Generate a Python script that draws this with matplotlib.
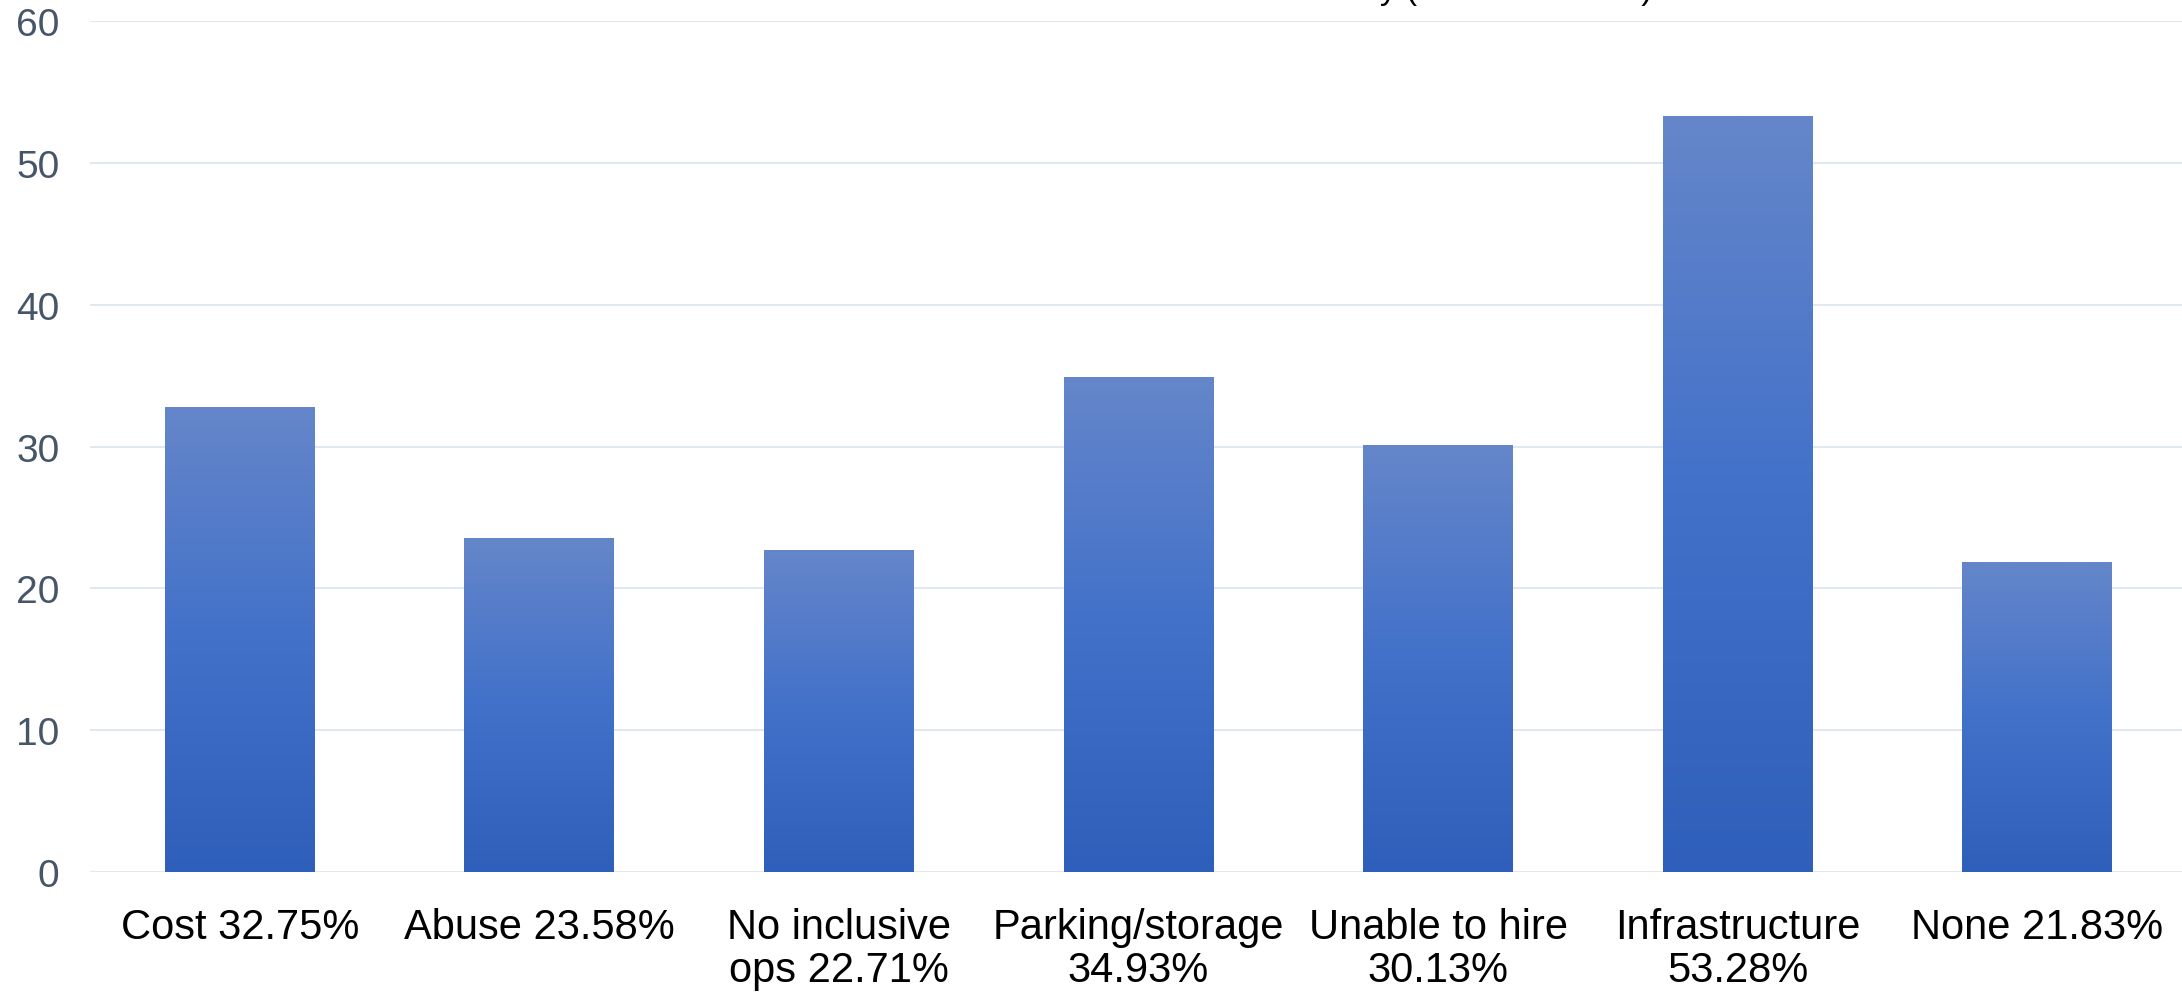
import matplotlib
matplotlib.use("Agg")
import matplotlib.pyplot as plt
import numpy as np
from matplotlib.colors import LinearSegmentedColormap

plt.rcParams['font.family'] = ['Liberation Sans', 'DejaVu Sans']

# data
categories = ["Cost 32.75%", "Abuse 23.58%", "No inclusive\nops 22.71%",
              "Parking/storage\n34.93%", "Unable to hire\n30.13%",
              "Infrastructure\n53.28%", "None 21.83%"]
values = [32.75, 23.58, 22.71, 34.93, 30.13, 53.28, 21.83]
yticks = [0, 10, 20, 30, 40, 50, 60]
title = "Barriers to Accessibility (Percent of total)"

fig = plt.figure(figsize=(21.82, 9.95), dpi=100)
ax = fig.add_axes([90 / 2182, 122 / 995, 2097 / 2182, 851 / 995])

x = np.arange(len(values))
bars = ax.bar(x, values, width=0.5, color='none', edgecolor='none', zorder=2)

# vertical gradient inside each bar (light on top, darker at base)
grad = LinearSegmentedColormap.from_list("bar", ["#2E5FBA", "#4271C9", "#6586CA"])
g = np.linspace(0, 1, 256).reshape(-1, 1)
for b in bars:
    x0, w, h = b.get_x(), b.get_width(), b.get_height()
    im = ax.imshow(g, cmap=grad, origin='lower', aspect='auto',
                   extent=(x0, x0 + w, 0, h), zorder=2)
    im.set_clip_path(b)

ax.set_xlim(-0.5, 6.5)
ax.set_ylim(0, 60)
ax.set_yticks(yticks)
ax.set_xticks(x)
ax.set_xticklabels(categories, fontsize=30, color='black', linespacing=1.1)
ax.tick_params(axis='x', length=0, pad=25)
ax.tick_params(axis='y', length=0, pad=22, labelsize=28, labelcolor='#475569')
ax.grid(axis='y', color='#E2E8F0', linewidth=1.5, zorder=0)
ax.set_axisbelow(True)
for s in ax.spines.values():
    s.set_visible(False)

# title sits mostly above the canvas, only its descenders show
fig.text(1652 / 2182, 1 + 1 / 995, title, ha='right', va='baseline',
         fontsize=24, color='black')

fig.savefig("out.png", dpi=100, facecolor='white')
